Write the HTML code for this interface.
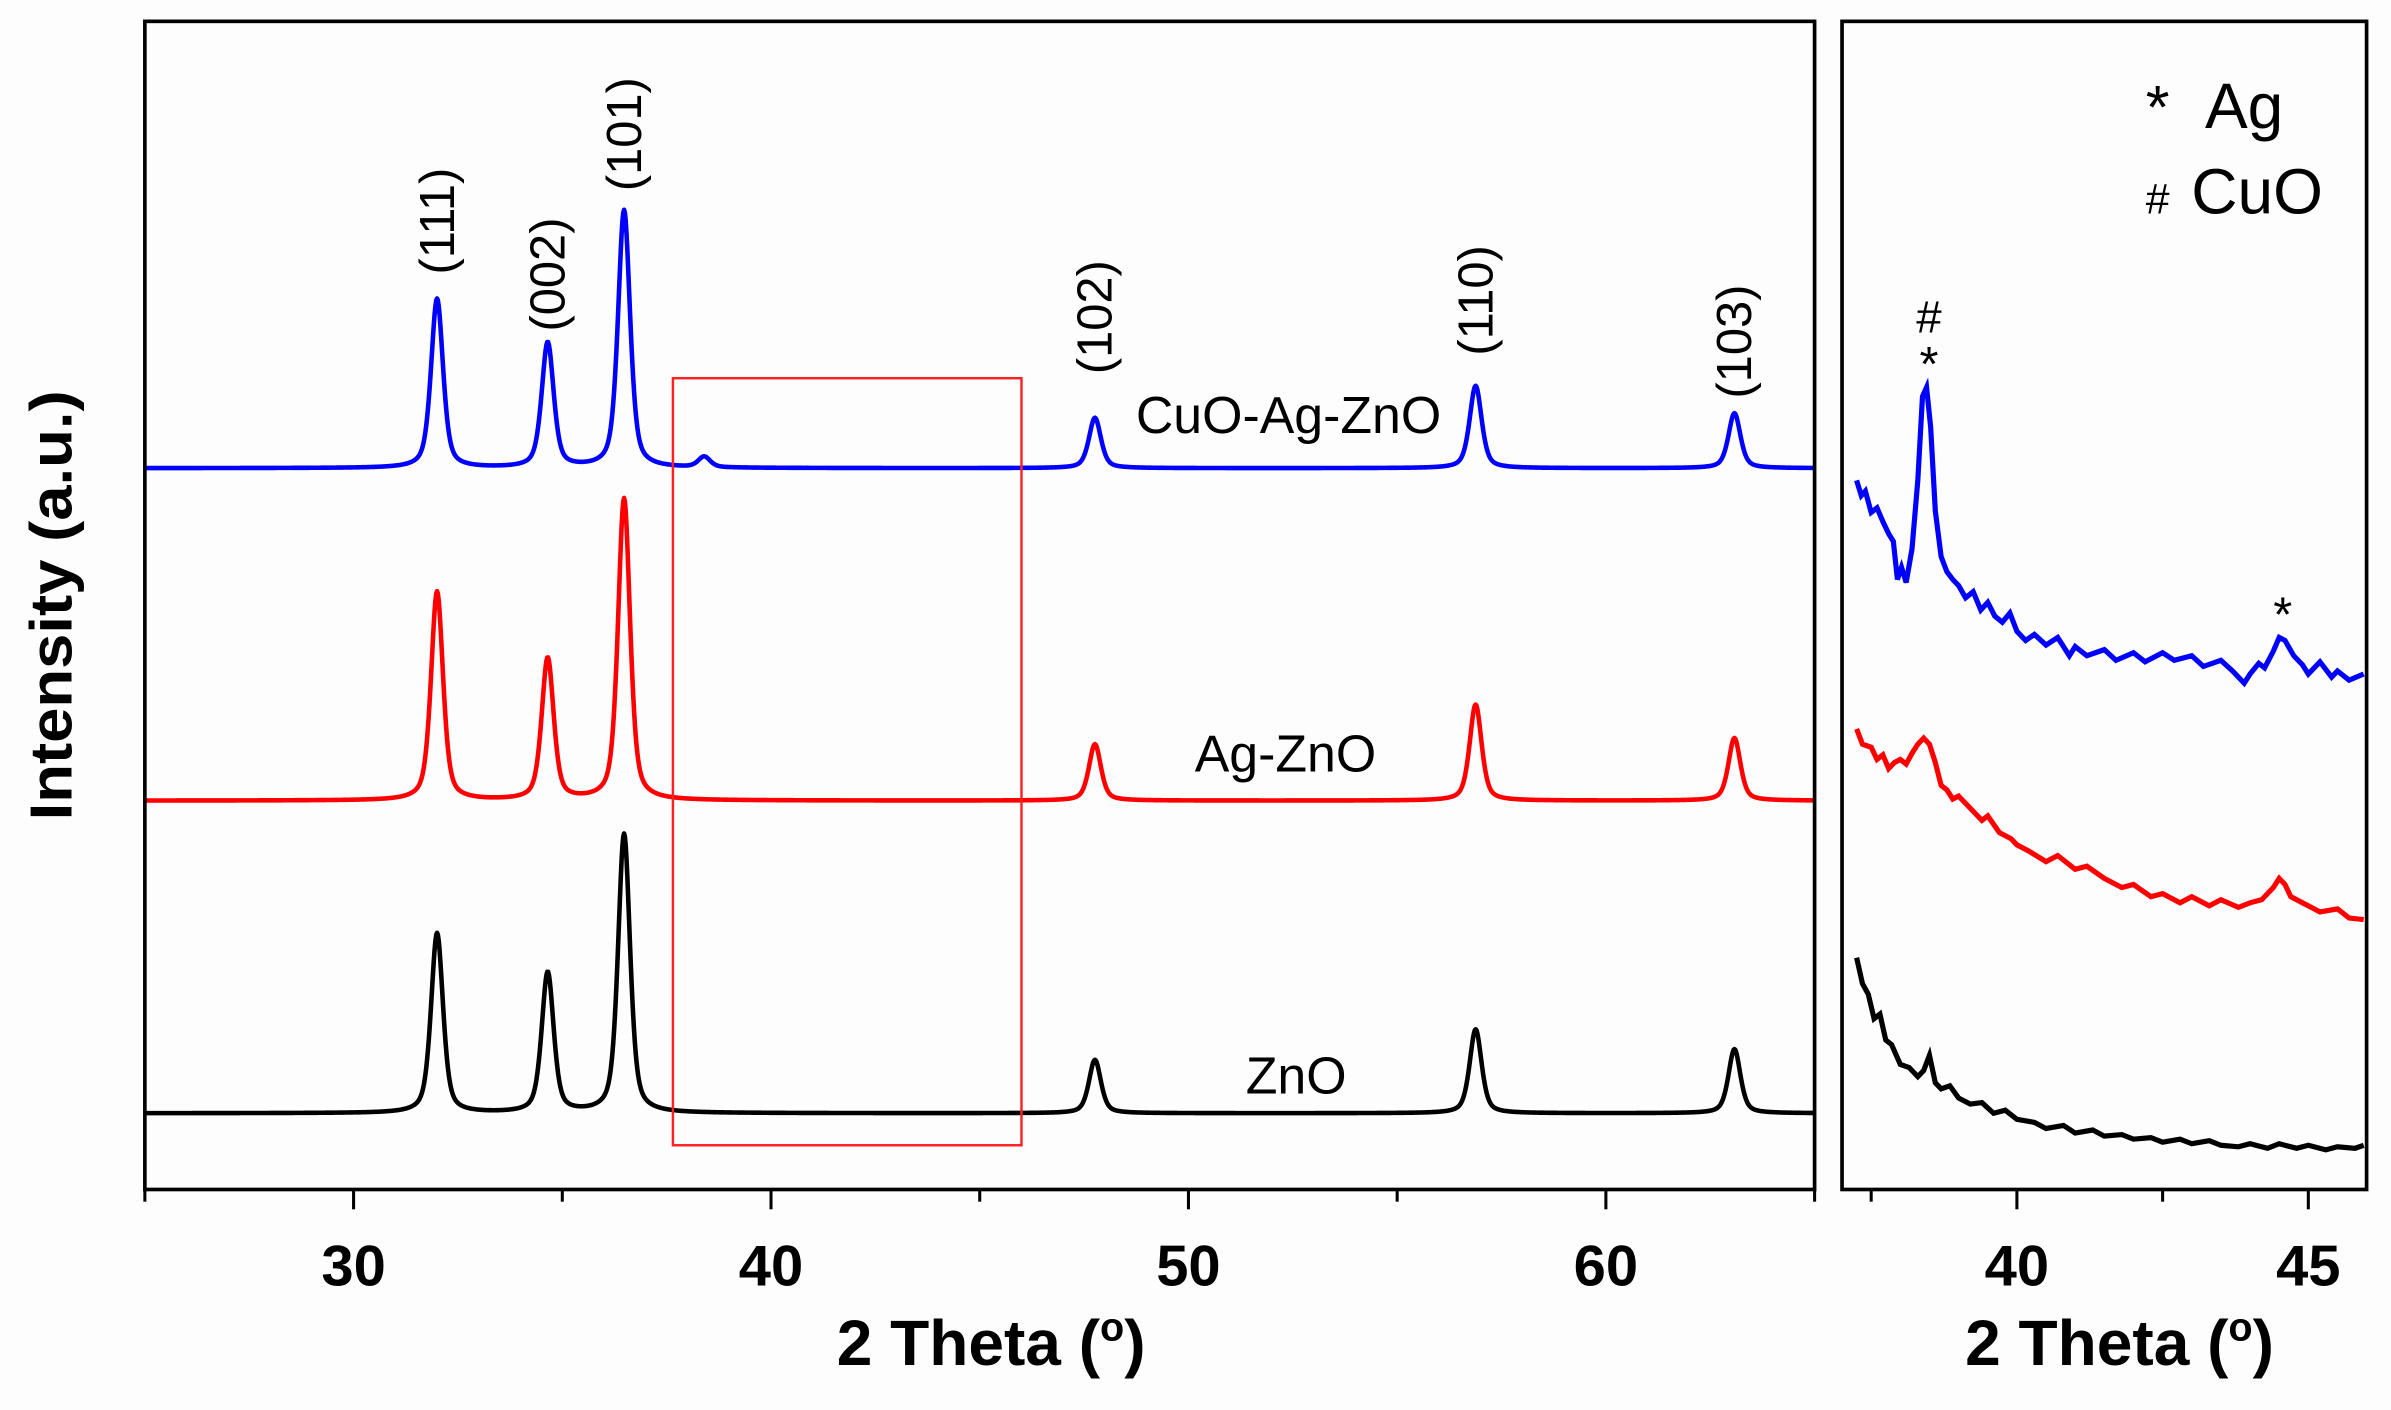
<!DOCTYPE html>
<html><head><meta charset="utf-8"><style>
html,body{margin:0;padding:0;background:#fdfdfd;}
svg{display:block;font-family:"Liberation Sans",Arial,sans-serif;}
</style></head><body>
<svg id="chart" width="2391" height="1410" viewBox="0 0 1568 924.6" preserveAspectRatio="none" xmlns="http://www.w3.org/2000/svg">
<rect x="0" y="0" width="1568" height="925" fill="#fdfdfd"/>
<g id="main"></g>
<g id="inset"></g>
</svg>
<script>
// ---- Main panel data ----
const peakPositions = [32.0, 34.65, 36.48, 47.76, 56.88, 63.08];
const peakLabels = ["(111)", "(002)", "(101)", "(102)", "(110)", "(103)"];
const znoHeights = [118, 92, 183, 35, 55, 42];
const agZnoHeights = [137, 93, 198, 37, 63, 41];
const cuoAgZnoHeights = [111, 82, 169, 33, 54, 36];
const cuoExtraPeak = [38.4, 7];
const seriesOffsets = [50, 255, 473];
const seriesNames = ["ZnO", "Ag-ZnO", "CuO-Ag-ZnO"];
const mainTicksMajor = [30, 40, 50, 60];
const mainTicksMinor = [25, 35, 45, 55, 65];
// ---- Inset data ----
const insetBlueX = [37.25,37.33,37.4,37.5,37.6,37.7,37.8,37.88,37.95,38.02,38.1,38.2,38.3,38.38,38.45,38.52,38.6,38.7,38.8,38.9,39.0,39.12,39.25,39.38,39.5,39.62,39.75,39.88,40,40.15,40.3,40.5,40.7,40.9,41,41.2,41.5,41.7,42,42.2,42.5,42.7,43,43.2,43.5,43.7,43.9,44,44.15,44.25,44.4,44.5,44.6,44.75,44.9,45,45.2,45.4,45.5,45.7,45.95];
const insetBlueY = [465,455,458,444,447,438,430,425,400,408,398,420,465,520,526,500,445,415,405,400,396,388,392,380,385,376,372,378,366,360,364,357,362,350,356,350,354,347,352,346,352,347,350,343,347,340,332,338,345,342,353,362,360,350,344,338,346,336,340,334,338];
const insetRedX = [37.25,37.35,37.5,37.6,37.7,37.8,37.9,38.0,38.1,38.2,38.3,38.4,38.5,38.6,38.7,38.8,38.9,39,39.2,39.4,39.5,39.7,39.9,40,40.2,40.5,40.7,41,41.2,41.5,41.8,42,42.3,42.5,42.8,43,43.3,43.5,43.8,44,44.2,44.3,44.4,44.5,44.6,44.7,44.9,45,45.2,45.5,45.7,45.95];
const insetRedY = [302,292,290,282,285,276,280,282,279,286,292,296,292,280,265,262,256,258,250,242,245,234,230,226,222,215,219,210,212,204,198,200,192,194,188,192,186,190,185,188,190,194,198,204,200,192,188,186,182,184,178,177];
const insetBlackX = [37.25,37.35,37.45,37.55,37.65,37.75,37.85,38,38.15,38.3,38.4,38.5,38.6,38.7,38.85,39,39.2,39.4,39.6,39.8,40,40.3,40.5,40.8,41,41.3,41.5,41.8,42,42.3,42.5,42.8,43,43.3,43.5,43.8,44,44.3,44.5,44.8,45,45.3,45.5,45.8,45.95];
const insetBlackY = [152,135,128,112,115,98,95,82,80,74,78,88,70,66,68,60,56,57,50,52,46,44,40,42,37,39,35,36,33,34,31,33,30,32,29,28,30,27,30,27,29,26,28,27,29];
const insetTicksMajor = [40, 45];
const insetTicksMinor = [37.5, 42.5];

const NS = "http://www.w3.org/2000/svg";
function mk(tag, attrs, parent, text) {
  const e = document.createElementNS(NS, tag);
  for (const k in attrs) e.setAttribute(k, attrs[k]);
  if (text !== undefined) e.textContent = text;
  parent.appendChild(e);
  return e;
}
const main = document.getElementById('main');
const inset = document.getElementById('inset');

const MX0 = 95, MX1 = 1190, TOP = 14, BOT = 780;
const mx = v => MX0 + (v - 25) / 40 * (MX1 - MX0);
const my = v => BOT - v;
const IX0 = 1208, IX1 = 1552;
const ix = v => IX0 + (v - 37) / 9 * (IX1 - IX0);
const iy = v => BOT - v;

function profile(x, pos, h) {
  let s = 0;
  for (let i = 0; i < pos.length; i++) {
    const d = (x - pos[i]) / 0.17;
    s += h[i] * (0.5 * Math.exp(-0.693 * d * d) + 0.5 / (1 + d * d));
  }
  return s;
}
const colors = ["#000000", "#ff0000", "#0000ff"];
const heightSets = [znoHeights, agZnoHeights, cuoAgZnoHeights];
heightSets.forEach((hs, si) => {
  let pos = peakPositions.slice(), h = hs.slice();
  if (si === 2) { pos.push(cuoExtraPeak[0]); h.push(cuoExtraPeak[1]); }
  let d = "";
  for (let x = 25; x <= 65.0001; x += 0.02) {
    const y = my(seriesOffsets[si] + profile(x, pos, h));
    d += (d ? "L" : "M") + mx(x).toFixed(2) + " " + y.toFixed(2);
  }
  const p = mk('path', {d: d, fill: 'none', stroke: colors[si], 'stroke-width': 3, 'stroke-linejoin': 'round'}, main);
  
  
});

const box = mk('rect', {x: mx(37.65), y: 248, width: mx(46.0) - mx(37.65), height: 503, fill: 'none', stroke: '#ff2020', 'stroke-width': 1.6}, main);



const fr = mk('rect', {x: MX0, y: TOP, width: MX1 - MX0, height: BOT - TOP, fill: 'none', stroke: '#000', 'stroke-width': 2.4}, main);



mainTicksMajor.forEach(t => {
  const l = mk('line', {x1: mx(t), x2: mx(t), y1: BOT, y2: BOT + 13, stroke: '#000', 'stroke-width': 2}, main);
  
  
  const tx = mk('text', {x: mx(t), y: 843, 'text-anchor': 'middle', 'font-size': 38, 'font-weight': 'bold'}, main, String(t));
  
  
});
mainTicksMinor.forEach(t => {
  const l = mk('line', {x1: mx(t), x2: mx(t), y1: BOT, y2: BOT + 8, stroke: '#000', 'stroke-width': 2}, main);
  
  
});

const labelY = [145, 180, 88, 208, 197, 224];
peakLabels.forEach((lab, i) => {
  const x = mx(peakPositions[i]) + 11;
  const t = mk('text', {x: x, y: labelY[i], 'text-anchor': 'middle', 'font-size': 32, transform: `rotate(-90 ${x} ${labelY[i]})`}, main, lab);
  
  
});
const sLabelPos = [[850, 717], [843, 506], [845, 284]];
seriesNames.forEach((n, i) => {
  const t = mk('text', {x: sLabelPos[i][0], y: sLabelPos[i][1], 'text-anchor': 'middle', 'font-size': 34}, main, n);
  
  
});
const yt = mk('text', {x: 47, y: 397, 'text-anchor': 'middle', 'font-size': 39, 'font-weight': 'bold', transform: 'rotate(-90 47 397)', textLength: 282, lengthAdjust: 'spacingAndGlyphs'}, main, 'Intensity (a.u.)');


function xTitle(cx, parent, name) {
  const t = mk('text', {x: cx, y: 895, 'text-anchor': 'middle', 'font-size': 42, 'font-weight': 'bold'}, parent);
  
  
  t.appendChild(document.createTextNode('2 Theta ('));
  mk('tspan', {dy: -16, 'font-size': 26}, t, 'o');
  mk('tspan', {dy: 16}, t, ')');
}
xTitle(650, main, 'x-axis-title');

[[insetBlackX, insetBlackY, '#000', 'inset-series-zno'], [insetRedX, insetRedY, '#ff0000', 'inset-series-ag-zno'], [insetBlueX, insetBlueY, '#0000ff', 'inset-series-cuo-ag-zno']].forEach(s => {
  let d = "";
  s[0].forEach((x, i) => { d += (i ? "L" : "M") + ix(x).toFixed(2) + " " + iy(s[1][i]).toFixed(2); });
  const p = mk('path', {d: d, fill: 'none', stroke: s[2], 'stroke-width': 3.4, 'stroke-linejoin': 'miter'}, inset);
  
  
});
const ifr = mk('rect', {x: IX0, y: TOP, width: IX1 - IX0, height: BOT - TOP, fill: 'none', stroke: '#000', 'stroke-width': 2.4}, inset);


insetTicksMajor.forEach(t => {
  const l = mk('line', {x1: ix(t), x2: ix(t), y1: BOT, y2: BOT + 13, stroke: '#000', 'stroke-width': 2}, inset);
  
  
  const tx = mk('text', {x: ix(t), y: 843, 'text-anchor': 'middle', 'font-size': 38, 'font-weight': 'bold'}, inset, String(t));
  
  
});
insetTicksMinor.forEach(t => {
  const l = mk('line', {x1: ix(t), x2: ix(t), y1: BOT, y2: BOT + 8, stroke: '#000', 'stroke-width': 2}, inset);
  
  
});
xTitle(1390, inset, 'inset-x-axis-title');

const lg0 = mk('text', {x: 1415, y: 84, 'text-anchor': 'middle', 'font-size': 40}, inset, '*');


const lg1 = mk('text', {x: 1446, y: 84, 'font-size': 42}, inset, 'Ag');


const lg2s = mk('text', {x: 1415, y: 140, 'text-anchor': 'middle', 'font-size': 28}, inset, '#');


const lg2 = mk('text', {x: 1437, y: 140, 'font-size': 42}, inset, 'CuO');


const m1 = mk('text', {x: 1265, y: 218, 'text-anchor': 'middle', 'font-size': 30}, inset, '#');


const m2 = mk('text', {x: 1265, y: 250, 'text-anchor': 'middle', 'font-size': 32}, inset, '*');


const m3 = mk('text', {x: 1497, y: 414, 'text-anchor': 'middle', 'font-size': 32}, inset, '*');


</script>
</body></html>
